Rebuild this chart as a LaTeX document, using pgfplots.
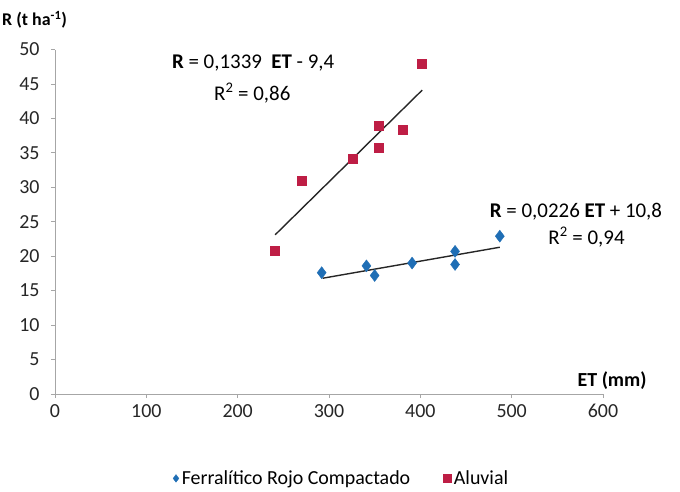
\documentclass[border=0pt]{standalone}
\usepackage{fontspec}
\setmainfont{Carlito}
\usepackage{pgfplots}
\pgfplotsset{compat=1.18}
\definecolor{ferr}{HTML}{1F6EB5}
\definecolor{aluv}{HTML}{BE1E45}
\definecolor{axgray}{HTML}{A6A6A6}
\begin{document}
\begin{tikzpicture}
\begin{axis}[
  scale only axis,
  width=548bp, height=344.5bp,
  at={(0,0)}, anchor=south west,
  xmin=0, xmax=600, ymin=0, ymax=50,
  axis lines=left,
  axis line style={-, draw=axgray, line width=1pt},
  xtick={0,100,...,600},
  ytick={0,5,...,50},
  tick align=outside,
  major tick length=4bp,
  tick style={draw=axgray, line width=0.8pt},
  ticklabel style={font=\fontsize{20}{24}\selectfont, text=black!85},
  yticklabel style={xshift=-8bp},
  xticklabel style={yshift=-3bp},
  /pgf/number format/assume math mode=true,
  clip=false,
  legend image code/.code={\draw[mark repeat=2, mark phase=2, #1, mark size=3.8bp]
    plot coordinates {(0bp,0bp) (4bp,0bp) (8bp,0bp)};},
  legend style={draw=none, fill=none, at={(0.524,-0.245)}, anchor=center,
    legend columns=2, font=\fontsize{20}{24}\selectfont,
    nodes={inner xsep=3bp},
    /tikz/every even column/.append style={column sep=30bp}},
]
\addplot[only marks, mark=diamond*, mark size=6bp, color=ferr]
  coordinates {(292,17.6) (341,18.6) (350,17.2) (391,19.0) (438,20.7) (438,18.8) (487,22.9)};
\addlegendentry{Ferralítico Rojo Compactado}
\addplot[only marks, mark=square*, mark size=4.5bp, color=aluv]
  coordinates {(241,20.8) (270,31.0) (326,34.1) (354,35.8) (354,38.9) (381,38.4) (402,47.9)};
\addlegendentry{Aluvial}
% trend lines
\addplot[black!85, line width=1.4pt, forget plot] coordinates {(241,23.1) (402,44.1)};
\addplot[black!85, line width=1.4pt, forget plot] coordinates {(293,16.8) (487,21.3)};
% equations
\node[font=\fontsize{21}{24}\selectfont] at (axis cs:217,48.0) {\textbf{R} = 0,1339\ \ \textbf{ET} - 9,4};
\node[font=\fontsize{21}{24}\selectfont] at (axis cs:216,43.7) {R\textsuperscript{2} = 0,86};
\node[font=\fontsize{21}{24}\selectfont, anchor=west, inner sep=0pt] at (axis cs:476,26.5) {\textbf{R} = 0,0226 \textbf{ET} + 10,8};
\node[font=\fontsize{21}{24}\selectfont] at (axis cs:582,22.8) {R\textsuperscript{2} = 0,94};
% axis titles
\node[font=\bfseries\fontsize{18}{22}\selectfont, anchor=west, inner sep=0pt] at (axis cs:-58,54.3) {R (t ha\textsuperscript{-1})};
\node[font=\bfseries\fontsize{20}{22}\selectfont] at (axis cs:610,2.0) {ET (mm)};
\end{axis}
\path[use as bounding box] (-55bp,-98bp) rectangle (625bp,394bp);
\end{tikzpicture}
\end{document}
